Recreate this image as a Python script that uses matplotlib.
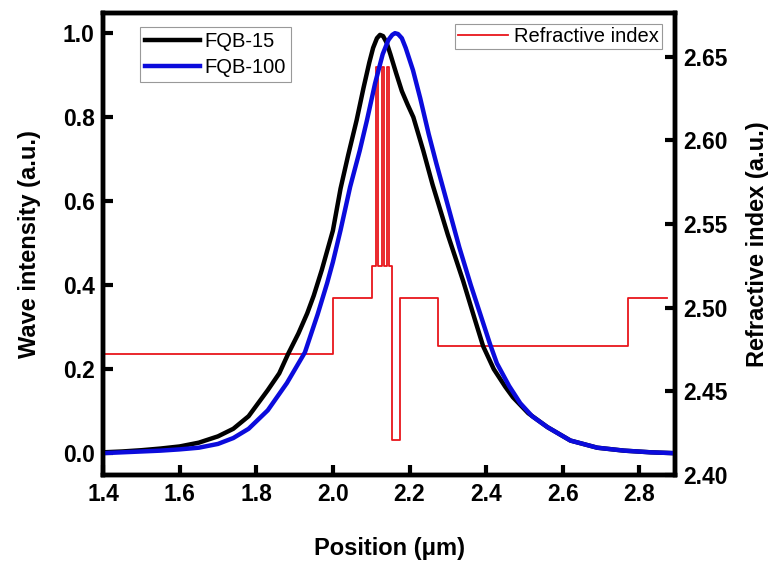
import matplotlib
matplotlib.use('Agg')
import matplotlib.pyplot as plt

plt.rcParams['font.family'] = ['Liberation Sans', 'DejaVu Sans']

# mode profiles (normalised)
x15 = [1.40, 1.45, 1.50, 1.55, 1.60, 1.65, 1.70, 1.74, 1.78, 1.83, 1.86, 1.883, 1.91, 1.933,
       1.95, 1.971, 2.00, 2.02, 2.04, 2.062, 2.08, 2.095, 2.105, 2.115, 2.123, 2.131, 2.14, 2.15,
       2.165, 2.18, 2.195, 2.21, 2.236, 2.26, 2.28, 2.30, 2.34, 2.37, 2.392, 2.42, 2.45, 2.47,
       2.51, 2.56, 2.62, 2.69, 2.76, 2.83, 2.89]
y15 = [0.002, 0.004, 0.007, 0.011, 0.016, 0.025, 0.040, 0.058, 0.088, 0.150, 0.190, 0.236, 0.285,
       0.333, 0.375, 0.436, 0.530, 0.630, 0.710, 0.793, 0.870, 0.930, 0.965, 0.988, 0.996, 0.993,
       0.978, 0.950, 0.905, 0.862, 0.830, 0.800, 0.720, 0.640, 0.580, 0.520, 0.410, 0.320, 0.255,
       0.200, 0.158, 0.133, 0.095, 0.062, 0.030, 0.013, 0.006, 0.002, 0.000]

x100 = [1.40, 1.45, 1.50, 1.55, 1.60, 1.65, 1.70, 1.74, 1.78, 1.83, 1.88, 1.927, 1.96, 1.985,
        2.00, 2.02, 2.045, 2.07, 2.089, 2.11, 2.13, 2.145, 2.155, 2.162, 2.17, 2.18, 2.19, 2.209,
        2.228, 2.25, 2.27, 2.30, 2.33, 2.36, 2.384, 2.41, 2.428, 2.46, 2.489, 2.52, 2.56, 2.62,
        2.69, 2.76, 2.83, 2.89]
y100 = [0.000, 0.002, 0.004, 0.006, 0.009, 0.013, 0.022, 0.036, 0.058, 0.102, 0.167, 0.240, 0.330,
        0.405, 0.455, 0.531, 0.634, 0.720, 0.793, 0.880, 0.950, 0.984, 0.996, 1.000, 0.998, 0.988,
        0.965, 0.912, 0.845, 0.760, 0.690, 0.590, 0.490, 0.400, 0.333, 0.260, 0.214, 0.160, 0.119,
        0.088, 0.062, 0.030, 0.013, 0.006, 0.002, 0.000]

# refractive index layers: left edge of each layer and its index
edges = [1.40, 2.000, 2.102, 2.113, 2.119, 2.128, 2.134, 2.140, 2.146, 2.155, 2.176, 2.275, 2.771, 2.873]
n_idx = [2.472, 2.506, 2.525, 2.644, 2.525, 2.644, 2.525, 2.644, 2.525, 2.421, 2.506, 2.477, 2.506]

fig = plt.figure(figsize=(7.81, 5.61), dpi=100)
ax = fig.add_axes([0.1319, 0.1533, 0.7324, 0.8235])
ax2 = ax.twinx()

ax2.plot(edges, n_idx + [n_idx[-1]], drawstyle='steps-post', color='#e8161b', lw=1.3,
         label='Refractive index')
ax.plot(x15, y15, color='black', lw=3.2, label='FQB-15', solid_joinstyle='round')
ax.plot(x100, y100, color='#0b0bdc', lw=3.2, label='FQB-100', solid_joinstyle='round')

ax.set_zorder(ax2.get_zorder() + 1)
ax.patch.set_visible(False)

ax.set_xlim(1.4, 2.893)
ax.set_ylim(-0.052, 1.048)
ax2.set_ylim(2.40, 2.676)
ax.set_xticks([1.4, 1.6, 1.8, 2.0, 2.2, 2.4, 2.6, 2.8])
ax.set_yticks([0.0, 0.2, 0.4, 0.6, 0.8, 1.0])
ax2.set_yticks([2.40, 2.45, 2.50, 2.55, 2.60, 2.65])
ax2.set_yticklabels(['2.40', '2.45', '2.50', '2.55', '2.60', '2.65'])

for a in (ax, ax2):
    for s in a.spines.values():
        s.set_linewidth(3.2)
    a.tick_params(direction='in', length=7, width=3, labelsize=16.5, pad=6)
    for t in a.get_xticklabels() + a.get_yticklabels():
        t.set_fontweight('bold')

ax.set_xlabel('Position (\u03bcm)', fontsize=17, fontweight='bold', labelpad=22)
ax.set_ylabel('Wave intensity (a.u.)', fontsize=17, fontweight='bold', labelpad=16)
ax2.set_ylabel('Refractive index (a.u.)', fontsize=17, fontweight='bold', labelpad=13)

leg1 = ax.legend(loc='upper left', bbox_to_anchor=(0.065, 0.97), fontsize=14.5, frameon=True,
                 fancybox=False, edgecolor='0.5', handlelength=2.7, handletextpad=0.25,
                 borderpad=0.25, labelspacing=0.35, borderaxespad=0)
leg1.get_frame().set_linewidth(0.8)
leg2 = ax2.legend(loc='upper right', bbox_to_anchor=(0.977, 0.976), fontsize=14.5, frameon=True,
                  fancybox=False, edgecolor='0.5', handlelength=2.5, handletextpad=0.3,
                  borderpad=0.15, borderaxespad=0)
leg2.get_frame().set_linewidth(0.8)

fig.savefig('out.png', dpi=100)
